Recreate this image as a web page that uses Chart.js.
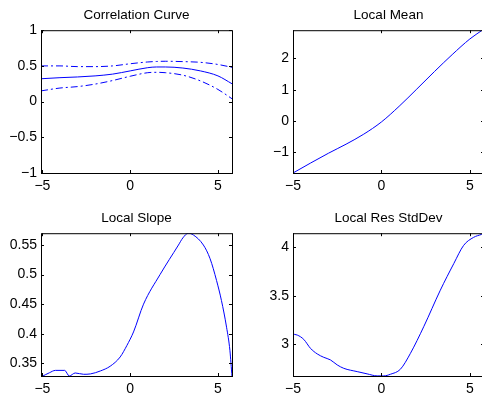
<!DOCTYPE html>
<html lang="en">
  <head>
    <meta charset="utf-8" />
    <title>Local Correlation</title>
    <style>
      html, body { margin: 0; padding: 0; background: #fff; }
      #page { position: relative; width: 482px; height: 394px; overflow: hidden; background: #fff; }
      #page canvas { position: absolute; }
    </style>
    <script src="https://cdn.jsdelivr.net/npm/chart.js"></script>
  </head>
  <body>
    <div id="page">
      <canvas id="corrChart" width="241" height="195" style="left:0px; top:0px;"></canvas>
      <canvas id="meanChart" width="241" height="195" style="left:252px; top:0px;"></canvas>
      <canvas id="slopeChart" width="241" height="195" style="left:0px; top:203px;"></canvas>
      <canvas id="sdChart" width="241" height="195" style="left:252px; top:203px;"></canvas>
    </div>
    <script>
      // values
      const xTicks = [-5, 0, 5];

      const corrX     = [-5.08, -4, -3, -2, -1, 0, 1, 1.5, 2, 3, 4, 5, 5.8];
      const corrMid   = [0.32, 0.335, 0.345, 0.36, 0.385, 0.43, 0.475, 0.485, 0.485, 0.47, 0.43, 0.36, 0.25];
      const corrUpper = [0.50, 0.50, 0.49, 0.49, 0.50, 0.53, 0.555, 0.562, 0.565, 0.56, 0.55, 0.52, 0.48];
      const corrLower = [0.15, 0.19, 0.21, 0.245, 0.295, 0.355, 0.405, 0.41, 0.405, 0.37, 0.29, 0.17, 0.04];
      const corrTicks = [-1, -0.5, 0, 0.5, 1];

      const meanX = [-5, -4, -3, -2, -1, 0, 1, 2, 3, 4, 5, 5.7, 5.8];
      const meanY = [-1.66, -1.34, -1.03, -0.74, -0.42, -0.03, 0.47, 1.02, 1.58, 2.12, 2.62, 2.90, 2.94];
      const meanTicks = [-1, 0, 1, 2];

      const slopeX = [-5.07, -4.6, -4.26, -3.73, -3.47, -3.13, -2.65, -2.27, -1.7, -1.14, -0.57, -0.19, 0.19, 0.76, 1.7, 2.75, 3.0, 3.31, 3.6, 4.17, 4.55, 4.92, 5.2, 5.49, 5.68, 5.8];
      const slopeY = [0.327, 0.334, 0.338, 0.338, 0.3285, 0.3336, 0.3314, 0.332, 0.337, 0.345, 0.3607, 0.38, 0.403, 0.45, 0.50, 0.55, 0.562, 0.570, 0.567, 0.55, 0.527, 0.49, 0.456, 0.411, 0.372, 0.327];
      const slopeTicks = [0.35, 0.4, 0.45, 0.5, 0.55];

      const sdX = [-5.04, -4.76, -4.39, -4.01, -3.63, -3.26, -2.88, -2.5, -2.13, -1.37, -0.81, -0.24, 0.13, 0.51, 1.07, 1.64, 2.39, 3.33, 4.09, 4.65, 5.21, 5.65, 5.8];
      const sdY = [3.106, 3.096, 3.051, 2.959, 2.902, 2.867, 2.84, 2.789, 2.754, 2.72, 2.697, 2.676, 2.676, 2.693, 2.744, 2.908, 3.181, 3.557, 3.83, 4.018, 4.10, 4.13, 4.14];
      const sdTicks = [3, 3.5, 4];

      const FONT = '"Liberation Sans", Arial, Helvetica, sans-serif';
      const BLUE = '#0000ff';

      function pts(xs, ys) {
        return xs.map((x, i) => ({ x: x, y: ys[i] }));
      }

      function line(xs, ys, dash) {
        return {
          data: pts(xs, ys),
          borderColor: BLUE,
          borderWidth: 1,
          borderDash: dash || [],
          pointRadius: 0,
          cubicInterpolationMode: 'monotone',
          fill: false
        };
      }

      function fmt(v) {
        return String(v).replace('-', '\u2212');
      }

      // matlab style box with inward tick marks
      const axesBox = {
        id: 'axesBox',
        afterDraw(chart) {
          const ctx = chart.ctx;
          const a = chart.chartArea;
          ctx.save();
          ctx.strokeStyle = '#000';
          ctx.lineWidth = 1;
          ctx.strokeRect(a.left + 0.5, a.top + 0.5, a.right - a.left, a.bottom - a.top);
          ctx.beginPath();
          chart.scales.x.ticks.forEach(t => {
            const px = Math.round(chart.scales.x.getPixelForValue(t.value)) + 0.5;
            ctx.moveTo(px, a.bottom); ctx.lineTo(px, a.bottom - 3);
            ctx.moveTo(px, a.top); ctx.lineTo(px, a.top + 3);
          });
          chart.scales.y.ticks.forEach(t => {
            const py = Math.round(chart.scales.y.getPixelForValue(t.value)) + 0.5;
            ctx.moveTo(a.left, py); ctx.lineTo(a.left + 3, py);
            ctx.moveTo(a.right, py); ctx.lineTo(a.right - 3, py);
          });
          ctx.stroke();
          ctx.restore();
        }
      };

      function makeChart(id, title, datasets, xMin, xMax, yMin, yMax, yTicks) {
        const ctx = document.getElementById(id).getContext('2d');
        return new Chart(ctx, {
          type: 'line',
          data: { datasets: datasets },
          plugins: [axesBox],
          options: {
            responsive: false,
            animation: false,
            events: [],
            layout: { padding: { left: 0, right: 9, top: 0, bottom: 0 } },
            plugins: {
              legend: { display: false },
              tooltip: { enabled: false },
              title: {
                display: true,
                text: title,
                fullSize: false,
                color: '#000',
                font: { family: FONT, size: 13.5, weight: 'normal', lineHeight: 1.2 },
                padding: { top: 7, bottom: 7 }
              }
            },
            scales: {
              x: {
                type: 'linear',
                min: xMin,
                max: xMax,
                grid: { display: false, drawTicks: false },
                border: { display: false },
                afterBuildTicks: s => { s.ticks = xTicks.map(v => ({ value: v })); },
                afterFit: s => { s.height = 22; },
                ticks: {
                  color: '#000',
                  font: { family: FONT, size: 14 },
                  padding: 5,
                  autoSkip: false,
                  maxRotation: 0,
                  callback: v => fmt(v)
                }
              },
              y: {
                type: 'linear',
                min: yMin,
                max: yMax,
                grid: { display: false, drawTicks: false },
                border: { display: false },
                afterBuildTicks: s => { s.ticks = yTicks.map(v => ({ value: v })); },
                afterFit: s => { s.width = 41; },
                ticks: {
                  color: '#000',
                  font: { family: FONT, size: 14 },
                  padding: 4,
                  autoSkip: false,
                  callback: v => fmt(v)
                }
              }
            }
          }
        });
      }

      makeChart('corrChart', 'Correlation Curve', [
        line(corrX, corrMid),
        line(corrX, corrUpper, [7, 3, 2, 3]),
        line(corrX, corrLower, [7, 3, 2, 3])
      ], -5.08, 5.8, -1, 1, corrTicks);

      makeChart('meanChart', 'Local Mean', [line(meanX, meanY)], -5, 5.8, -1.66, 2.9, meanTicks);

      makeChart('slopeChart', 'Local Slope', [line(slopeX, slopeY)], -5.08, 5.8, 0.3285, 0.570, slopeTicks);

      makeChart('sdChart', 'Local Res StdDev', [line(sdX, sdY)], -5, 5.8, 2.675, 4.143, sdTicks);
    </script>
  </body>
</html>
